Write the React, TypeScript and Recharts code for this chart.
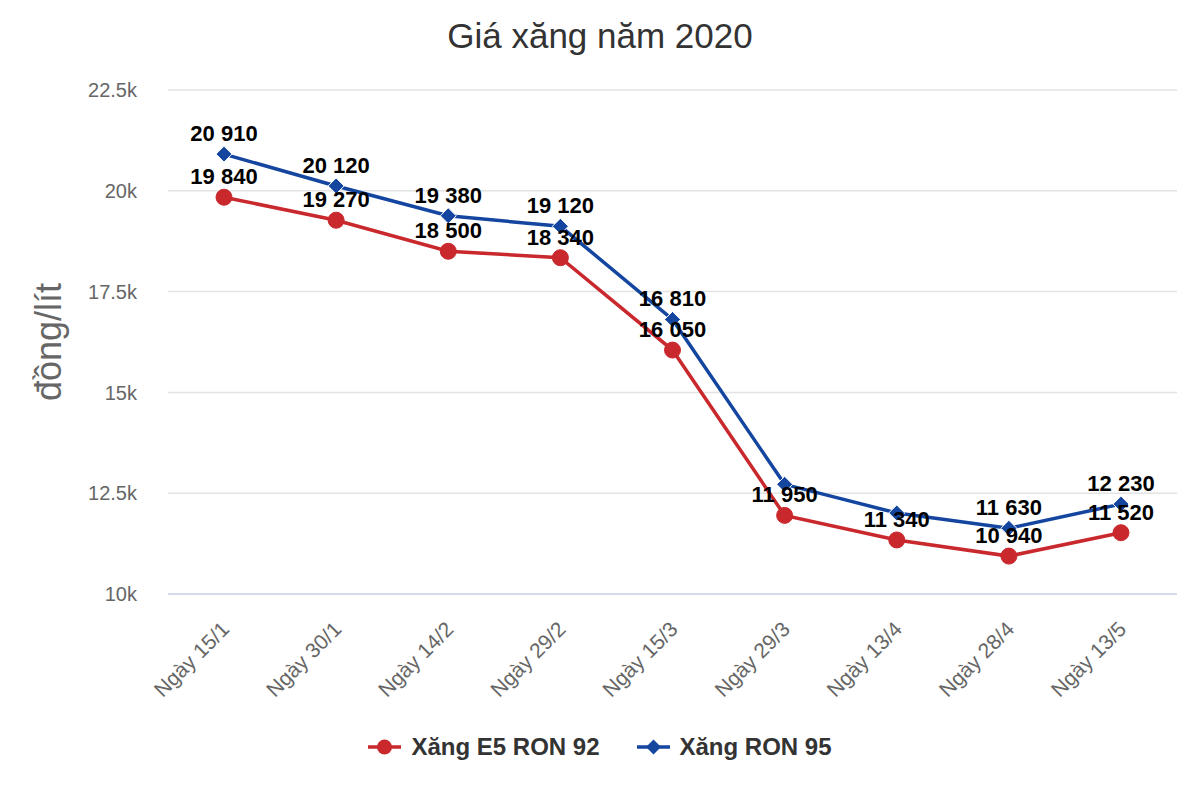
import React from "react";
import {
  CartesianGrid,
  LabelList,
  Line,
  LineChart,
  XAxis,
  YAxis,
} from "recharts";

const dates = [
  "Ngày 15/1",
  "Ngày 30/1",
  "Ngày 14/2",
  "Ngày 29/2",
  "Ngày 15/3",
  "Ngày 29/3",
  "Ngày 13/4",
  "Ngày 28/4",
  "Ngày 13/5",
];
const e5Ron92 = [19840, 19270, 18500, 18340, 16050, 11950, 11340, 10940, 11520];
const ron95 = [20910, 20120, 19380, 19120, 16810, 12720, 12010, 11630, 12230];
// labels that the original chart hides because they overlap
const ron95HiddenLabels = [5, 6];
const yTicks = [10000, 12500, 15000, 17500, 20000, 22500];

const RED = "#c9282d";
const BLUE = "#1446a0";
const FONT = "'Liberation Sans', Arial, sans-serif";

const data = dates.map((d, i) => ({ date: d, e5: e5Ron92[i], r95: ron95[i] }));

const fmt = (v: number) => String(v).replace(/\B(?=(\d{3})+(?!\d))/g, " ");

function Diamond({ cx, cy, fill, size = 8 }: any) {
  if (cx == null || cy == null) return null;
  return (
    <polygon
      points={`${cx},${cy - size} ${cx + size},${cy} ${cx},${cy + size} ${cx - size},${cy}`}
      fill={fill}
      stroke="#fff"
      strokeWidth={1}
    />
  );
}

function DateTick({ x, y, payload }: any) {
  const tx = x - 4;
  const ty = y + 7;
  return (
    <text
      x={tx}
      y={ty}
      dy="0.71em"
      transform={`rotate(-45, ${tx}, ${ty})`}
      textAnchor="end"
      fontSize={21}
      fontFamily={FONT}
      fill="#666"
    >
      {payload.value}
    </text>
  );
}

function pointLabel(hidden: number[]) {
  return (p: any) => {
    if (hidden.includes(p.index)) return null;
    return (
      <text
        x={p.x}
        y={p.y - 13}
        textAnchor="middle"
        fontFamily={FONT}
        fontSize={22}
        fontWeight="bold"
        fill="#000"
      >
        {fmt(p.value)}
      </text>
    );
  };
}

const series = [
  { name: "Xăng E5 RON 92", color: RED, shape: "circle" },
  { name: "Xăng RON 95", color: BLUE, shape: "diamond" },
];

export default function App() {
  return (
    <div
      style={{
        position: "absolute",
        left: 0,
        top: 0,
        width: 1200,
        height: 800,
        background: "#fff",
        fontFamily: FONT,
      }}
    >
      <div
        style={{
          position: "absolute",
          top: 16,
          width: 1200,
          textAlign: "center",
          fontSize: 35,
          color: "#333",
        }}
      >
        Giá xăng năm 2020
      </div>
      <LineChart
        width={1200}
        height={800}
        data={data}
        margin={{ top: 90, right: 23, left: 0, bottom: 116 }}
      >
        <CartesianGrid vertical={false} stroke="#e3e3e3" strokeWidth={1.5} />
        <XAxis
          dataKey="date"
          height={90}
          interval={0}
          padding={{ left: 56, right: 56 }}
          axisLine={{ stroke: "#ccd6eb", strokeWidth: 1.5 }}
          tickLine={false}
          tickMargin={13}
          tick={<DateTick />}
        />
        <YAxis
          width={168}
          domain={[10000, 22500]}
          ticks={yTicks}
          axisLine={false}
          tickLine={false}
          tickMargin={25}
          tickFormatter={(v: number) => `${v / 1000}k`}
          tick={{ fill: "#666", fontSize: 20, fontFamily: FONT }}
          label={{
            content: ({ viewBox }: any) => (
              <text
                x={51}
                y={viewBox.y + viewBox.height / 2}
                transform={`rotate(-90, 51, ${viewBox.y + viewBox.height / 2})`}
                textAnchor="middle"
                dominantBaseline="middle"
                fontSize={36}
                fontFamily={FONT}
                fill="#666"
              >
                đồng/lít
              </text>
            ),
          }}
        />
        <Line
          type="linear"
          dataKey="e5"
          name="Xăng E5 RON 92"
          stroke={RED}
          strokeWidth={3.5}
          dot={{ r: 8, fill: RED, stroke: RED, strokeWidth: 1 }}
          isAnimationActive={false}
        >
          <LabelList dataKey="e5" content={pointLabel([])} />
        </Line>
        <Line
          type="linear"
          dataKey="r95"
          name="Xăng RON 95"
          stroke={BLUE}
          strokeWidth={3.5}
          dot={(p: any) => <Diamond key={p.index} cx={p.cx} cy={p.cy} fill={BLUE} />}
          isAnimationActive={false}
        >
          <LabelList dataKey="r95" content={pointLabel(ron95HiddenLabels)} />
        </Line>
      </LineChart>
      <div
        style={{
          position: "absolute",
          top: 733,
          width: 1200,
          display: "flex",
          justifyContent: "center",
          gap: 37,
        }}
      >
        {series.map((s) => (
          <div key={s.name} style={{ display: "flex", alignItems: "center" }}>
            <svg width={33} height={20} style={{ marginRight: 10 }}>
              <line x1={0} y1={10} x2={33} y2={10} stroke={s.color} strokeWidth={3.5} />
              {s.shape === "circle" ? (
                <circle cx={16.5} cy={10} r={7.5} fill={s.color} />
              ) : (
                <polygon points="16.5,2.5 24,10 16.5,17.5 9,10" fill={s.color} />
              )}
            </svg>
            <span style={{ fontSize: 24, fontWeight: "bold", color: "#333" }}>{s.name}</span>
          </div>
        ))}
      </div>
    </div>
  );
}
